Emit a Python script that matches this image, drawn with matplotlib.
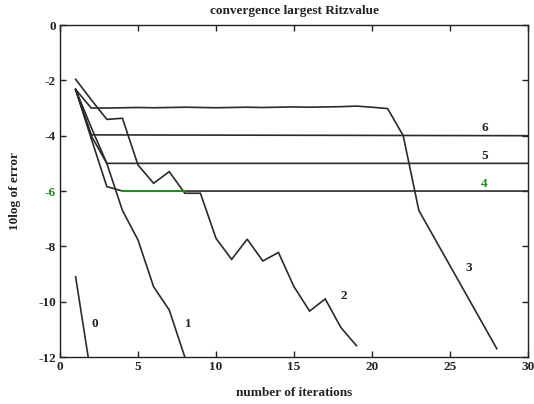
import matplotlib
matplotlib.use("Agg")
import matplotlib.pyplot as plt
import numpy as np

plt.rcParams['font.family'] = ['Liberation Serif', 'DejaVu Serif']
plt.rcParams['font.weight'] = 'bold'

title = "convergence largest Ritzvalue"
xlabel = "number of iterations"
ylabel = "10log of error"

x0 = [1, 2]
y0 = [-9.1, -12.7]

x1 = [1, 2, 3, 4, 5, 6, 7, 8]
y1 = [-2.33, -3.7, -5.0, -6.7, -7.77, -9.46, -10.3, -12.0]

x2 = list(range(1, 20))
y2 = [-1.96, -2.7, -3.41, -3.37, -5.06, -5.72, -5.3, -6.08, -6.08, -7.71,
      -8.47, -7.74, -8.53, -8.22, -9.46, -10.34, -9.9, -10.93, -11.59]

x3 = list(range(1, 29))
y3 = [-2.33, -3.0, -3.0, -2.99, -2.98, -2.99, -2.98, -2.97, -2.98, -2.99,
      -2.98, -2.97, -2.98, -2.97, -2.96, -2.97, -2.96, -2.95, -2.93, -2.97,
      -3.02, -4.0, -6.7, -7.7, -8.7, -9.7, -10.7, -11.7]

x4 = [1, 2, 3, 4, 8, 30]
y4 = [-2.33, -4.1, -5.84, -6.0, -6.0, -6.0]

x5 = [1, 2, 3, 30]
y5 = [-2.33, -4.0, -5.0, -5.0]

x6 = [1, 2, 30]
y6 = [-2.33, -3.97, -4.0]

labels = ["0", "1", "2", "3", "4", "5", "6"]
label_x = [2.24, 8.2, 18.2, 26.2, 27.2, 27.2, 27.2]
label_y = [-10.8, -10.8, -9.8, -8.8, -5.76, -4.73, -3.73]

fig = plt.figure(figsize=(5.34, 4.04), dpi=100)
ax = fig.add_axes([0.1124, 0.1163, 0.8764, 0.8217])

lc = '#2a2a2a'
lw = 1.2
for xs, ys in [(x0, y0), (x1, y1), (x2, y2), (x3, y3), (x4, y4), (x5, y5), (x6, y6)]:
    ax.plot(xs, ys, color=lc, lw=lw, solid_joinstyle='miter')

# green-tinted segment of curve 4
x4a = np.array(x4)
y4a = np.array(y4)
m = (x4a >= 4) & (x4a <= 8)
ax.plot(x4a[m], y4a[m], color='#1a9a1a', lw=lw)

for t, lx, ly in zip(labels, label_x, label_y):
    ax.text(lx, ly, t, fontsize=9.5, fontweight='bold', ha='center', va='center',
            color='#1a8a1a' if t == "4" else '#222222')

ax.set_xlim(0, 30)
ax.set_ylim(-12, 0)
ax.set_xticks([0, 5, 10, 15, 20, 25, 30])
ax.set_yticks([-12, -10, -8, -6, -4, -2, 0])
ax.set_xticklabels(['0', '5', '10', '15', '20', '25', '30'])
ax.set_yticklabels(['-12', '-10', '-8', '-6', '-4', '-2', '0'])
ax.tick_params(direction='in', top=True, right=True, length=4, width=1,
               labelsize=9.5, pad=3, colors='#222222')
for lab in ax.get_yticklabels():
    if lab.get_text() == '-6':
        lab.set_color('#1a8a1a')
for sp in ax.spines.values():
    sp.set_linewidth(1.0)
    sp.set_color('#222222')

ax.set_title(title, fontsize=9.5, fontweight='bold', pad=8, color='#222222')
ax.set_xlabel(xlabel, fontsize=9.5, fontweight='bold', labelpad=10, color='#222222')
ax.set_ylabel(ylabel, fontsize=9.5, fontweight='bold', labelpad=12, color='#222222')

fig.savefig("out.png", dpi=100)
